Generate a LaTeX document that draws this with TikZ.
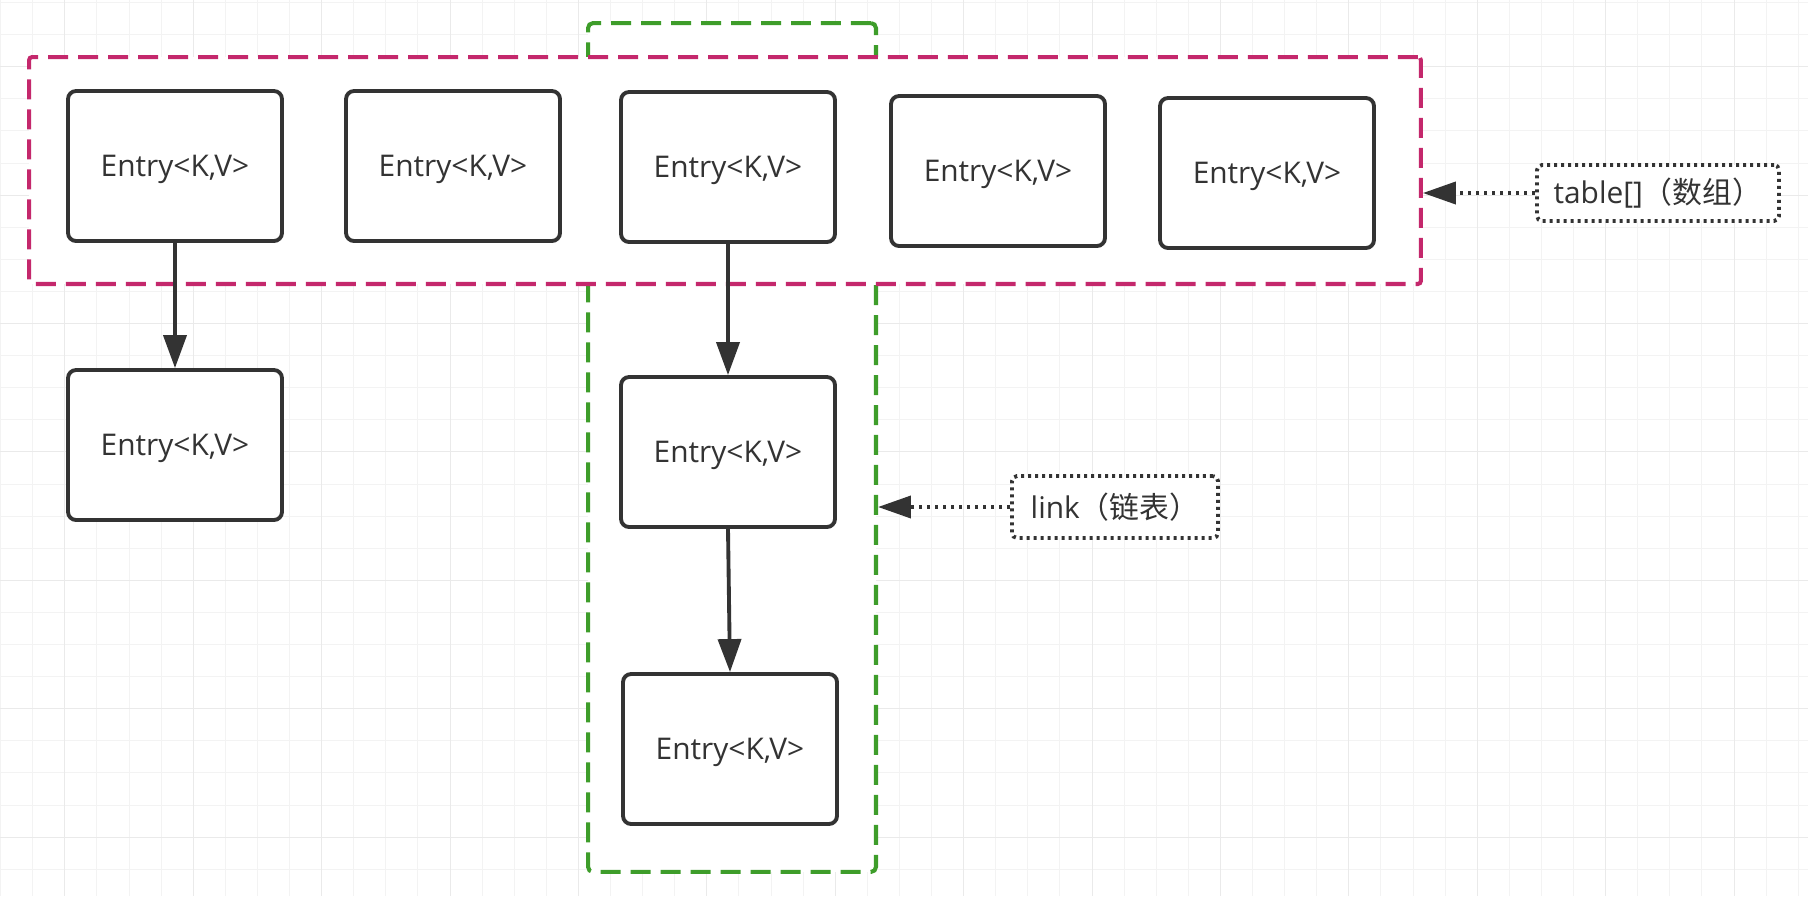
\documentclass[tikz,border=0pt]{standalone}
\usepackage{fontspec}
\setmainfont{Open Sans}
\newfontfamily\cjk{Noto Sans CJK SC}
\usepackage{xcolor}
\definecolor{TextGray}{RGB}{51,51,51}
\definecolor{TableMagenta}{RGB}{196,40,108}
\definecolor{LinkGreen}{RGB}{62,157,42}
\definecolor{GridMinor}{RGB}{243,243,243}
\definecolor{GridMajor}{RGB}{234,234,234}
\usepackage{tikz}
\usetikzlibrary{
    arrows.meta,
    positioning,
    backgrounds
}

\tikzset{
    entry/.style={
        draw=TextGray,
        fill=white,
        line width=2.2pt,
        rounded corners=0.16cm,
        minimum width=4.28cm,
        minimum height=3.0cm,
        inner sep=0pt,
        text depth=0pt,
        text=TextGray,
        font=\fontsize{17}{20}\selectfont
    },
    groupbox/.style={
        fill=white,
        line width=2.3pt,
        dash pattern=on 0.4cm off 0.2cm,
        inner sep=0pt
    },
    notebox/.style={
        draw=TextGray,
        fill=white,
        line width=2.2pt,
        dash pattern=on 0.06cm off 0.08cm,
        rounded corners=0.1cm,
        inner sep=0pt,
        text=TextGray,
        font=\fontsize{17}{20}\selectfont
    },
    flow/.style={
        -{Triangle[length=0.66cm,width=0.46cm]},
        draw=TextGray,
        line width=2.2pt
    },
    pointer/.style={
        -{Triangle[length=0.66cm,width=0.44cm]},
        draw=TextGray,
        line width=2.2pt,
        dash pattern=on 0.06cm off 0.1cm
    }
}

\begin{document}
\begin{tikzpicture}[x=0.02cm,y=-0.02cm]
%
    \useasboundingbox (0,0) rectangle (1808,896);
    \fill[white] (0,0) rectangle (1808,896);
%
    % Grid
%
    \foreach \k in {0,...,56} {
        \draw[GridMinor, line width=0.5pt]
        ({0.6+32.1*\k},0) -- ({0.6+32.1*\k},896);
    }
    \foreach \k in {0,...,27} {
        \draw[GridMinor, line width=0.5pt]
        (0,{2.5+32.1*\k}) -- (1808,{2.5+32.1*\k});
    }
    \foreach \k in {2,6,...,54} {
        \draw[GridMajor, line width=0.5pt]
        ({0.6+32.1*\k},0) -- ({0.6+32.1*\k},896);
    }
    \foreach \k in {2,6,...,26} {
        \draw[GridMajor, line width=0.5pt]
        (0,{2.5+32.1*\k}) -- (1808,{2.5+32.1*\k});
    }
%
    % Groups
%
    \node[
        groupbox,
        draw=LinkGreen,
        rounded corners=0.1cm,
        minimum width=5.76cm,
        minimum height=16.98cm
    ] (link) at (732,447.5) {};
%
    \node[
        groupbox,
        draw=TableMagenta,
        rounded corners=0.06cm,
        minimum width=27.84cm,
        minimum height=4.54cm
    ] (table) at (725,170.5) {};
%
    % Entries
%
    \node[entry] (a1) at (175,166) {Entry<K,V>};
    \node[entry] (a2) at (453,166) {Entry<K,V>};
    \node[entry] (a3) at (728,167) {Entry<K,V>};
    \node[entry] (a4) at (998,171) {Entry<K,V>};
    \node[entry] (a5) at (1267,173) {Entry<K,V>};
%
    \node[entry] (b1) at (175,445) {Entry<K,V>};
    \node[entry] (b2) at (728,452) {Entry<K,V>};
    \node[entry] (b3) at (730,749) {Entry<K,V>};
%
    \draw[flow] (a1) -- (b1);
    \draw[flow] (a3) -- (b2);
    \draw[flow] (b2.south) -- (b3.north);
%
    % Notes
%
    \node[
        notebox,
        minimum width=4.84cm,
        minimum height=1.12cm
    ] (table-note) at (1658,193) {table[]{\cjk（数组）}};
    \draw[pointer] (table-note) -- (table.east |- table-note);
%
    \node[
        notebox,
        minimum width=4.12cm,
        minimum height=1.24cm
    ] (link-note) at (1115,507) {link{\cjk（链表）}};
    \draw[pointer] (link-note) -- (link.east |- link-note);
%
\end{tikzpicture}
\end{document}
